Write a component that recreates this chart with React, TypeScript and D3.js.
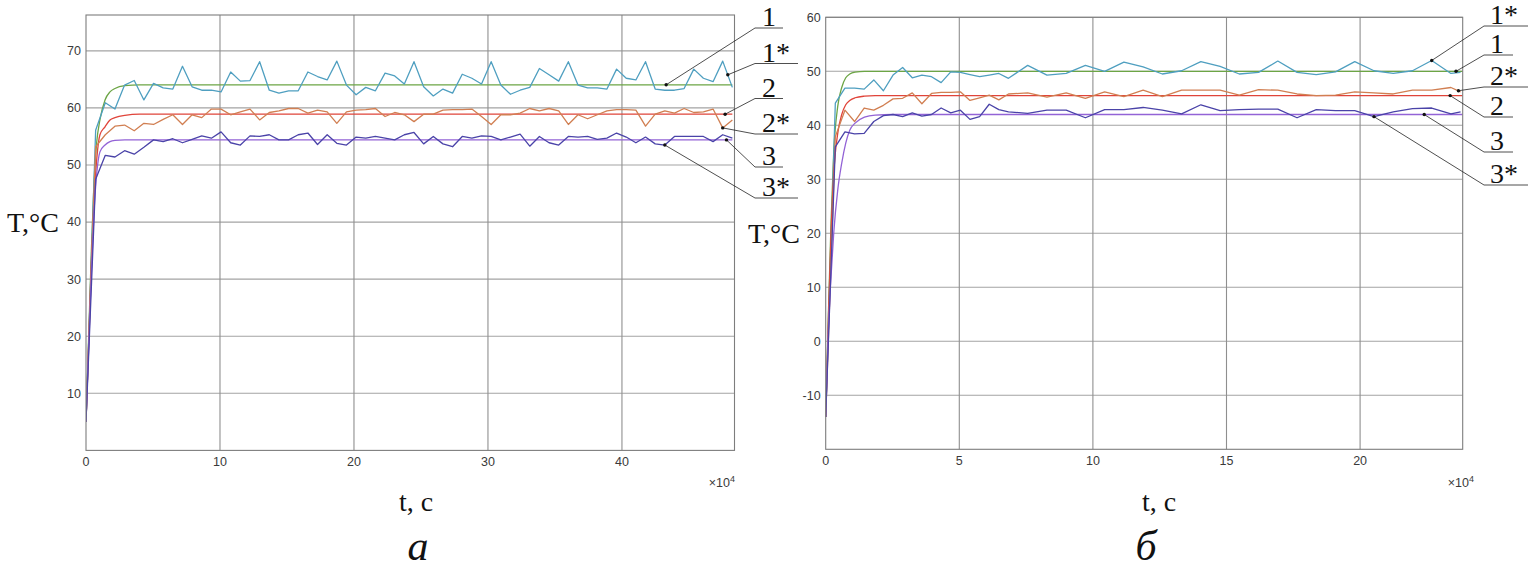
import React from 'react';
import * as d3 from 'd3';

// ---------- Panel (а): time in units of 10^4 s ----------
const tA = [0,0.72,1.44,2.16,2.88,3.6,4.32,5.04,5.76,6.48,7.2,7.92,8.64,9.36,10.08,10.8,11.52,12.24,12.96,13.68,14.4,15.12,15.84,16.56,17.28,18,18.72,19.44,20.16,20.88,21.6,22.32,23.04,23.76,24.48,25.2,25.92,26.64,27.36,28.08,28.8,29.52,30.24,30.96,31.68,32.4,33.12,33.84,34.56,35.28,36,36.72,37.44,38.16,38.88,39.6,40.32,41.04,41.76,42.48,43.2,43.92,44.64,45.36,46.08,46.8,47.52,48.24];
const a1s = [5,56.1,60.9,59.8,64.0,64.8,61.4,64.3,63.5,63.3,67.3,63.7,63.1,63.1,62.8,66.3,64.7,64.8,68.1,63.1,62.6,63.0,63.0,66.3,65.5,64.9,68.2,64.0,62.3,63.6,63.0,66.1,65.6,64.2,68.1,63.7,62.1,63.3,62.6,65.9,65.2,64.2,68.1,64.0,62.4,63.1,63.6,66.9,65.8,64.7,68.1,64.0,63.5,63.5,63.3,66.8,65.2,64.9,68.1,63.3,63.1,63.1,63.4,66.8,65.2,64.6,68.2,63.6];
const a2s = [5,53.2,55.3,56.8,57.0,56.0,57.3,57.1,58.0,58.8,57.1,58.8,58.3,59.8,59.8,58.8,59.3,59.8,57.9,59.2,59.5,59.9,59.9,59.1,59.6,59.3,57.3,59.3,59.6,59.7,59.9,58.5,59.2,58.8,57.6,58.9,58.9,59.6,59.7,59.7,59.8,58.5,57.1,58.8,58.8,59.1,59.9,59.5,59.9,59.5,57.1,58.8,58.1,58.8,59.5,59.7,59.7,59.6,56.8,58.9,59.5,59.1,59.9,59.2,59.3,59.8,56.5,57.9];
const a3s = [5,47.5,51.7,51.4,52.5,51.9,53.1,54.4,54.1,54.6,53.9,54.5,55.1,54.7,55.8,53.9,53.5,55.1,55.0,55.3,54.4,54.4,55.3,55.6,53.6,55.3,53.8,53.5,54.9,54.7,55.0,54.7,54.4,55.3,55.7,53.7,55.0,53.7,53.2,55.0,54.7,55.1,55.0,54.4,54.9,55.4,53.3,55.0,53.9,53.5,55.0,54.9,55.0,54.5,54.7,55.6,54.9,53.9,54.9,53.7,53.5,55.0,55.0,55.0,55.0,54.1,55.3,54.7];
const tAm = [0,0.2,0.4,0.6,0.8,1.04,1.42,1.79,2.16,2.9,4,48.24];
const a1 = [5,20,35,47,54,57.9,61.4,62.8,63.4,63.9,64.05,64.05];
const a2 = [5,19,33,44,51,55.3,56.7,57.9,58.3,58.7,58.9,58.9];
const a3 = [5,18,31,42,48.5,52.3,53.5,54.1,54.3,54.4,54.4,54.4];
const aYTicks = [10,20,30,40,50,60,70];
const aXTicks = [0,10,20,30,40];

// ---------- Panel (б) ----------
const tB = [0,0.36,0.72,1.08,1.44,1.8,2.16,2.52,2.88,3.24,3.6,3.96,4.32,4.68,5.04,5.4,5.76,6.12,6.48,6.84,7.56,8.28,9,9.72,10.44,11.16,11.88,12.6,13.32,14.04,14.76,15.48,16.2,16.92,17.64,18.36,19.08,19.8,20.52,21.24,21.96,22.68,23.4,23.76];
const b1s = [-14,44.1,46.9,46.9,46.7,48.4,46.4,49.3,50.7,48.8,49.3,49.0,47.9,49.9,49.8,49.4,49.0,49.3,49.6,48.7,51.1,49.3,49.6,51.1,50.0,51.7,50.8,49.5,50.1,51.8,50.9,49.5,49.8,51.9,49.8,49.4,49.9,51.8,50.1,49.6,50.1,52.0,49.6,49.8];
const b2s = [-14,37.9,42.8,40.7,43.2,42.8,43.7,44.9,45.0,46.0,44.0,45.9,46.1,46.1,46.2,44.6,45.1,45.6,44.7,45.8,46.0,45.2,46.0,45.0,46.2,45.3,46.5,45.3,46.5,46.5,46.5,45.6,46.6,46.5,45.8,45.5,45.6,46.2,46.0,45.8,46.5,46.5,47.0,46.2];
const b3s = [-14,36.0,38.8,38.4,38.5,40.7,41.8,42.0,41.6,42.3,41.7,42.0,43.2,42.3,42.8,41.1,41.6,43.9,42.9,42.5,42.2,42.8,42.8,41.4,42.9,42.9,43.3,42.8,42.1,43.8,42.7,42.9,43.0,43.0,41.4,42.9,42.7,42.7,41.6,42.5,43.1,43.2,42.1,42.5];
const tBm = [0,0.1,0.2,0.3,0.45,0.6,0.75,0.9,1.1,1.45,1.85,2.5,23.84];
const b1 = [-14,5,22,35,43.5,47,48.8,49.5,49.85,50,50,50,50];
const b2 = [-14,4,20,31,38.5,42,43.8,44.6,45.1,45.4,45.5,45.5,45.5];
const b3 = [-14,2,12,20,28,33,36.7,39.1,40.4,41.5,41.9,42,42];
const bYTicks = [-10,0,10,20,30,40,50,60];
const bXTicks = [0,5,10,15,20];

// annotation labels: text, anchor (t, value)
const aLabels = ['1','1*','2','2*','3','3*'];
const aAnchorT = [43.3,47.9,47.7,47.52,47.8,43.2];
const aAnchorV = [64.05,65.8,58.9,56.5,54.4,53.5];
const bLabels = ['1*','1','2*','2','3','3*'];
const bAnchorT = [22.68,23.59,23.68,23.37,22.4,20.52];
const bAnchorV = [52.0,50.0,46.4,45.5,42.0,41.6];

const COLORS = {
  m1: '#6ca545', s1: '#4f9fc0',
  m2: '#e0443a', s2: '#d17f52',
  m3: '#9363d6', s3: '#4a43a8',
};

type Line = { t: number[]; v: number[]; color: string; smooth?: boolean };

interface PanelProps {
  id: string;
  x0: number; x1: number; y0: number; y1: number;
  xDom: [number, number]; yDom: [number, number];
  xTicks: number[]; yTicks: number[];
  lines: Line[];
  labels: string[]; anchorT: number[]; anchorV: number[];
  rowY: number[]; lineX: number; textX: number; shortEnd: number; longEnd: number;
  expX: number;
  yTitleX: number; yTitleY: number;
  xTitleX: number; letter: string; letterX: number;
}

function Panel(p: PanelProps) {
  const x = d3.scaleLinear().domain(p.xDom).range([p.x0, p.x1]);
  const y = d3.scaleLinear().domain(p.yDom).range([p.y1, p.y0]);
  const tickFont = '"Liberation Sans", Arial, sans-serif';
  const serif = '"Liberation Serif", "Times New Roman", serif';
  return (
    <g>
      <defs>
        <clipPath id={p.id}>
          <rect x={p.x0} y={p.y0} width={p.x1 - p.x0} height={p.y1 - p.y0} />
        </clipPath>
      </defs>
      <rect x={p.x0} y={p.y0} width={p.x1 - p.x0} height={p.y1 - p.y0} fill="#fff" />
      {p.yTicks.map((v) => (
        <line key={'gy' + v} x1={p.x0} x2={p.x1} y1={y(v)} y2={y(v)} stroke="#a3a3a3" strokeWidth={1.1} />
      ))}
      {p.xTicks.filter((v) => v !== 0).map((v) => (
        <line key={'gx' + v} x1={x(v)} x2={x(v)} y1={p.y0} y2={p.y1} stroke="#8f8f8f" strokeWidth={1.1} />
      ))}
      <g clipPath={`url(#${p.id})`}>
        {p.lines.map((l, i) => {
          const gen = d3.line<number>()
            .x((_, k) => x(l.t[k]))
            .y((d) => y(d))
            .curve(l.smooth ? d3.curveMonotoneX : d3.curveLinear);
          return <path key={i} d={gen(l.v) || ''} fill="none" stroke={l.color} strokeWidth={1.3} strokeLinejoin="round" />;
        })}
      </g>
      <rect x={p.x0} y={p.y0} width={p.x1 - p.x0} height={p.y1 - p.y0} fill="none" stroke="#7d7d7d" strokeWidth={1.1} />
      {p.yTicks.map((v) => (
        <text key={'ty' + v} x={p.x0 - 5} y={y(v)} dy="0.35em" textAnchor="end" fontFamily={tickFont} fontSize={12.5} fill="#3a3a3a">{v}</text>
      ))}
      {p.xTicks.map((v) => (
        <text key={'tx' + v} x={x(v)} y={p.y1 + 16} textAnchor="middle" fontFamily={tickFont} fontSize={12.5} fill="#3a3a3a">{v}</text>
      ))}
      <text x={p.expX} y={487} textAnchor="end" fontFamily={tickFont} fontSize={12.5} fill="#3a3a3a">
        ×10<tspan dy={-5} fontSize={9}>4</tspan>
      </text>
      <text x={p.yTitleX} y={p.yTitleY} fontFamily={serif} fontSize={28} fill="#111">T,°C</text>
      <text x={p.xTitleX} y={511} textAnchor="middle" fontFamily={serif} fontSize={28} fill="#111">t, c</text>
      <text x={p.letterX} y={560} textAnchor="middle" fontFamily={serif} fontStyle="italic" fontSize={42} fill="#111">{p.letter}</text>
      {p.labels.map((lab, i) => {
        const ax = x(p.anchorT[i]);
        const ay = y(p.anchorV[i]);
        const ry = p.rowY[i];
        const end = lab.length > 1 ? p.longEnd : p.shortEnd;
        return (
          <g key={'lab' + i}>
            <line x1={p.lineX} y1={ry} x2={ax} y2={ay} stroke="#222" strokeWidth={0.8} />
            <line x1={p.lineX} y1={ry} x2={end} y2={ry} stroke="#222" strokeWidth={0.8} />
            <circle cx={ax} cy={ay} r={1.7} fill="#111" />
            <text x={p.textX} y={ry - 2} fontFamily={serif} fontSize={28} fill="#111">{lab}</text>
          </g>
        );
      })}
    </g>
  );
}

export default function App() {
  const linesA: Line[] = [
    { t: tAm, v: a1, color: COLORS.m1, smooth: true },
    { t: tA, v: a1s, color: COLORS.s1 },
    { t: tAm, v: a2, color: COLORS.m2, smooth: true },
    { t: tA, v: a2s, color: COLORS.s2 },
    { t: tAm, v: a3, color: COLORS.m3, smooth: true },
    { t: tA, v: a3s, color: COLORS.s3 },
  ];
  const linesB: Line[] = [
    { t: tBm, v: b1, color: COLORS.m1, smooth: true },
    { t: tB, v: b1s, color: COLORS.s1 },
    { t: tBm, v: b2, color: COLORS.m2, smooth: true },
    { t: tB, v: b2s, color: COLORS.s2 },
    { t: tBm, v: b3, color: COLORS.m3, smooth: true },
    { t: tB, v: b3s, color: COLORS.s3 },
  ];
  return (
    <svg width={1528} height={571} style={{ position: 'absolute', left: 0, top: 0, background: '#fff' }}>
      <rect width={1528} height={571} fill="#fff" />
      <Panel
        id="clipA" x0={86} x1={734.5} y0={15} y1={450.4}
        xDom={[0, 48.4]} yDom={[0, 76.28]}
        xTicks={aXTicks} yTicks={aYTicks} lines={linesA}
        labels={aLabels} anchorT={aAnchorT} anchorV={aAnchorV}
        rowY={[28, 63.5, 98.5, 134, 167, 198]} lineX={755} textX={762} shortEnd={783} longEnd={798}
        expX={735} yTitleX={7} yTitleY={232} xTitleX={416} letter="а" letterX={418}
      />
      <Panel
        id="clipB" x0={825.7} x1={1462.7} y0={17.3} y1={449.3}
        xDom={[0, 23.84]} yDom={[-20, 60]}
        xTicks={bXTicks} yTicks={bYTicks} lines={linesB}
        labels={bLabels} anchorT={bAnchorT} anchorV={bAnchorV}
        rowY={[26, 55, 87, 117, 152, 185]} lineX={1484} textX={1490} shortEnd={1513} longEnd={1528}
        expX={1474} yTitleX={748} yTitleY={243} xTitleX={1159} letter="б" letterX={1146}
      />
    </svg>
  );
}
